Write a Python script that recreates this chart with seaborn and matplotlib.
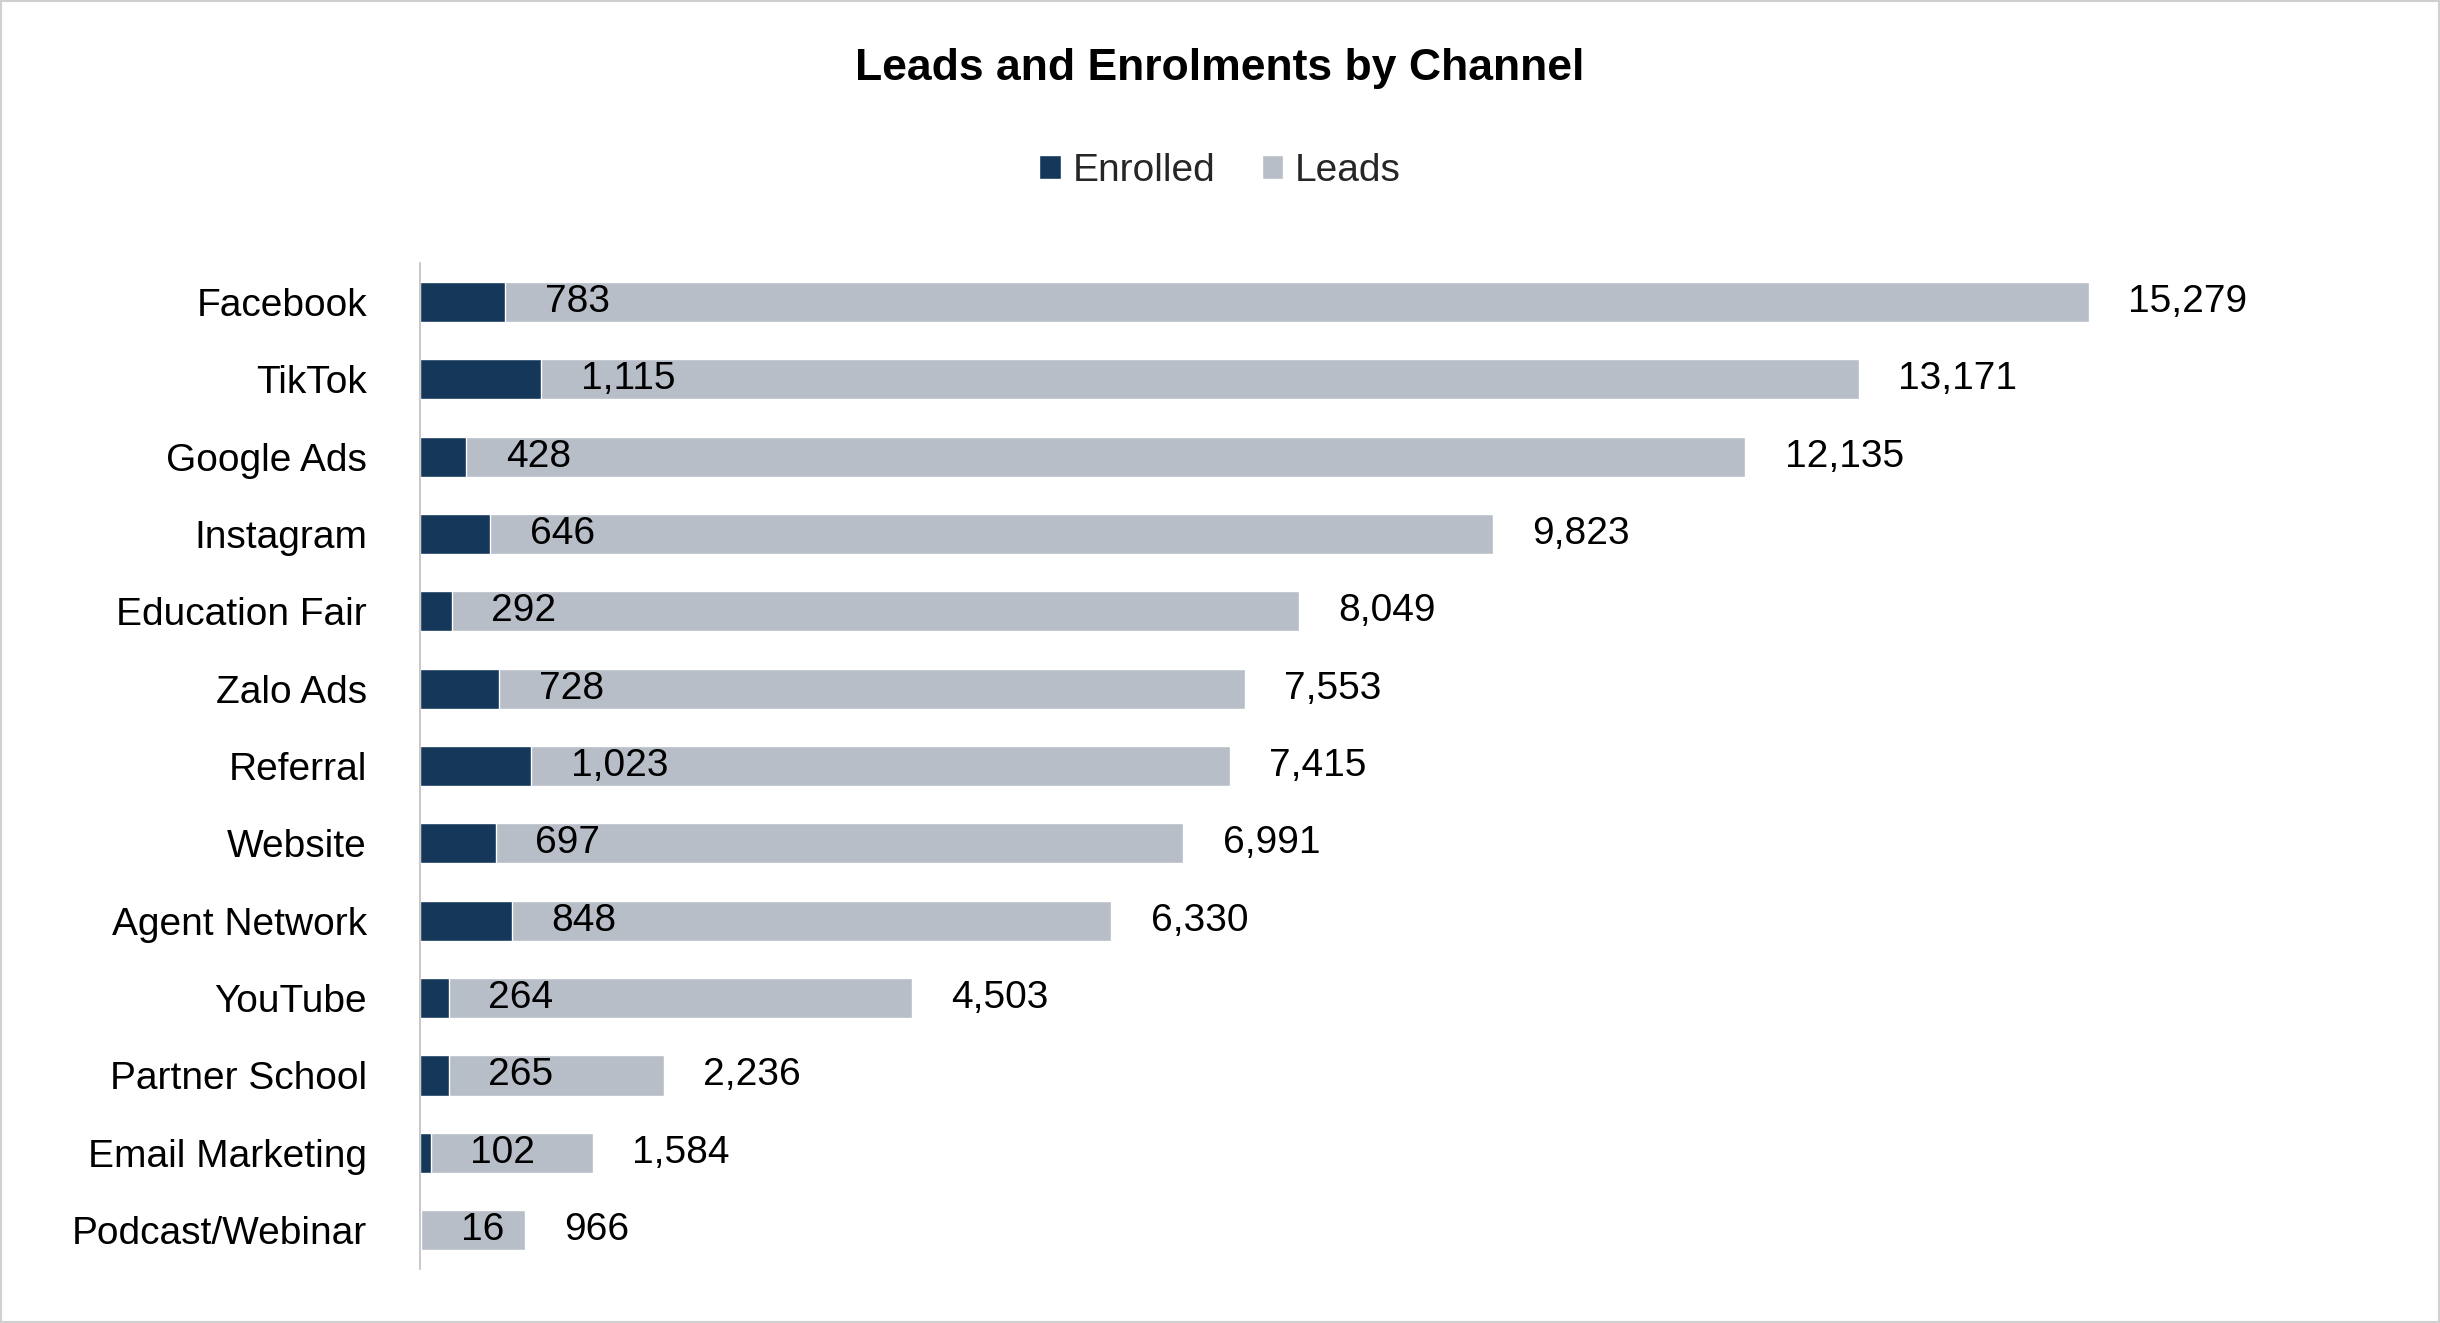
import matplotlib
matplotlib.use("Agg")
import matplotlib.pyplot as plt
import seaborn as sns
import pandas as pd

channels = ["Facebook", "TikTok", "Google Ads", "Instagram", "Education Fair", "Zalo Ads",
            "Referral", "Website", "Agent Network", "YouTube", "Partner School",
            "Email Marketing", "Podcast/Webinar"]
leads = [15279, 13171, 12135, 9823, 8049, 7553, 7415, 6991, 6330, 4503, 2236, 1584, 966]
enrolled = [783, 1115, 428, 646, 292, 728, 1023, 697, 848, 264, 265, 102, 16]

df = pd.DataFrame({"Channel": channels, "Leads": leads, "Enrolled": enrolled})

sns.set_theme(style="white")
plt.rcParams["font.family"] = ["Liberation Sans", "DejaVu Sans"]

fig = plt.figure(figsize=(24.4, 13.23), dpi=100)
ax = fig.add_axes([0.172, 0.041, 0.81, 0.76])

grey = "#b8bec8"
navy = "#14375a"
sns.barplot(data=df, y="Channel", x="Leads", color=grey, width=0.52, ax=ax, orient="h",
            label="Leads", saturation=1)
sns.barplot(data=df, y="Channel", x="Enrolled", color=navy, width=0.52, ax=ax, orient="h",
            label="Enrolled", saturation=1)

for i, (l, e) in enumerate(zip(leads, enrolled)):
    ax.text(e + 360, i, f"{e:,}", va="center", ha="left", fontsize=28, color="black")
    ax.text(l + 360, i, f"{l:,}", va="center", ha="left", fontsize=28, color="black")

ax.set_xlim(0, 18090)
ax.set_ylim(12.5, -0.5)
ax.set_xlabel("")
ax.set_ylabel("")
ax.set_xticks([])
ax.tick_params(axis="y", labelsize=28, length=0, pad=38, labelcolor="black")
for s in ["top", "right", "bottom"]:
    ax.spines[s].set_visible(False)
ax.spines["left"].set_color("#bfbfbf")
ax.spines["left"].set_linewidth(1.2)

handles, labels = ax.get_legend_handles_labels()
order = [labels.index("Enrolled"), labels.index("Leads")]
fig.legend([handles[k] for k in order], ["Enrolled", "Leads"], loc="center",
           bbox_to_anchor=(0.5, 0.871), ncol=2, frameon=False, fontsize=28,
           handlelength=0.55, handleheight=0.55, handletextpad=0.3, columnspacing=1.2)
if ax.get_legend():
    ax.get_legend().remove()

fig.text(0.5, 0.948, "Leads and Enrolments by Channel", ha="center", va="center",
         fontsize=32, fontweight="bold", color="black")

fig.patches.append(plt.Rectangle((0.0005, 0.0005), 0.999, 0.999, transform=fig.transFigure,
                                 fill=False, edgecolor="#d0d0d0", linewidth=1.5))
fig.savefig("out.png", dpi=100, facecolor="white")
